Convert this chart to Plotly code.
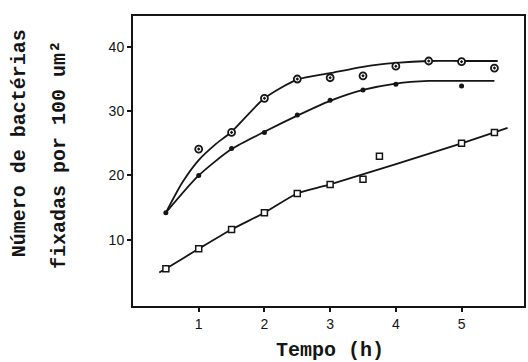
import plotly.graph_objects as go

# Measured points (time in hours, bacteria per 100 um^2)
t_top = [1.0, 1.5, 2.0, 2.5, 3.0, 3.5, 4.0, 4.5, 5.0, 5.5]
n_top = [24.1, 26.7, 32.0, 35.0, 35.2, 35.5, 37.0, 37.8, 37.7, 36.7]

t_mid = [0.5, 1.0, 1.5, 2.0, 2.5, 3.0, 3.5, 4.0, 5.0]
n_mid = [14.2, 20.0, 24.2, 26.7, 29.4, 31.7, 33.3, 34.2, 33.9]

t_low = [0.5, 1.0, 1.5, 2.0, 2.5, 3.0, 3.5, 3.75, 5.0, 5.5]
n_low = [5.5, 8.6, 11.6, 14.2, 17.2, 18.6, 19.4, 23.0, 25.0, 26.7]

# Hand-drawn fitted curves
fit_top_t = [0.5, 0.75, 1.0, 1.25, 1.5, 2.0, 2.5, 3.0, 3.5, 4.0, 4.5, 5.0, 5.55]
fit_top_n = [14.2, 18.9, 22.4, 24.8, 26.8, 32.0, 34.9, 35.9, 36.9, 37.5, 37.8, 37.8, 37.8]

fit_mid_t = [0.5, 1.0, 1.5, 2.0, 2.5, 3.0, 3.5, 4.0, 4.5, 5.0, 5.5]
fit_mid_n = [14.2, 20.0, 24.1, 26.8, 29.3, 31.6, 33.3, 34.3, 34.7, 34.7, 34.7]

fit_low_t = [0.4, 0.5, 1.0, 1.5, 2.0, 2.5, 3.0, 5.0, 5.5, 5.7]
fit_low_n = [4.9, 5.5, 8.6, 11.6, 14.2, 17.2, 18.6, 25.0, 26.7, 27.4]

x_ticks = [1, 2, 3, 4, 5]
y_ticks = [10, 20, 30, 40]

ink = "#151515"
mono = "Liberation Mono, Courier New, monospace"
narrow = "Liberation Sans Narrow, Liberation Sans, sans-serif"

fig = go.Figure()

for tx, ny in [(fit_top_t, fit_top_n), (fit_mid_t, fit_mid_n), (fit_low_t, fit_low_n)]:
    fig.add_trace(go.Scatter(x=tx, y=ny, mode="lines",
                             line=dict(color=ink, width=1.8, shape="spline", smoothing=0.7),
                             hoverinfo="skip", showlegend=False))

fig.add_trace(go.Scatter(x=t_top, y=n_top, mode="markers",
                         marker=dict(symbol="circle-dot", size=7, color="white",
                                     line=dict(color=ink, width=1.8)),
                         showlegend=False))
fig.add_trace(go.Scatter(x=t_mid, y=n_mid, mode="markers",
                         marker=dict(symbol="circle", size=5, color=ink),
                         showlegend=False))
fig.add_trace(go.Scatter(x=t_low, y=n_low, mode="markers",
                         marker=dict(symbol="square", size=6, color="white",
                                     line=dict(color=ink, width=1.5)),
                         showlegend=False))

axis_common = dict(showgrid=False, zeroline=False, showline=True, linecolor=ink,
                   linewidth=2, mirror=True, ticks="outside", ticklen=4,
                   tickwidth=1.5, tickcolor=ink,
                   tickfont=dict(family=narrow, size=14, color=ink))

fig.update_xaxes(range=[0, 5.95], tickvals=x_ticks, ticktext=[str(v) for v in x_ticks],
                 **axis_common)
fig.update_yaxes(range=[-0.3, 44.8], tickvals=y_ticks, ticktext=[str(v) for v in y_ticks],
                 **axis_common)

title_font = dict(family=mono, size=20, color=ink, weight="bold")

fig.add_annotation(text="Tempo (h)", xref="paper", yref="paper", x=0.505, y=-0.155,
                   showarrow=False, font=title_font,
                   xanchor="center", yanchor="middle")
fig.add_annotation(text="Número de bactérias", xref="paper", yref="paper",
                   x=-0.29, y=0.56, textangle=-90, showarrow=False,
                   font=title_font, xanchor="center", yanchor="middle")
fig.add_annotation(text="fixadas por 100 um²", xref="paper", yref="paper",
                   x=-0.19, y=0.52, textangle=-90, showarrow=False,
                   font=title_font, xanchor="center", yanchor="middle")

fig.update_layout(width=528, height=362, margin=dict(l=133, r=2, t=16, b=56),
                  paper_bgcolor="white", plot_bgcolor="white")

fig.write_html("out.html")
